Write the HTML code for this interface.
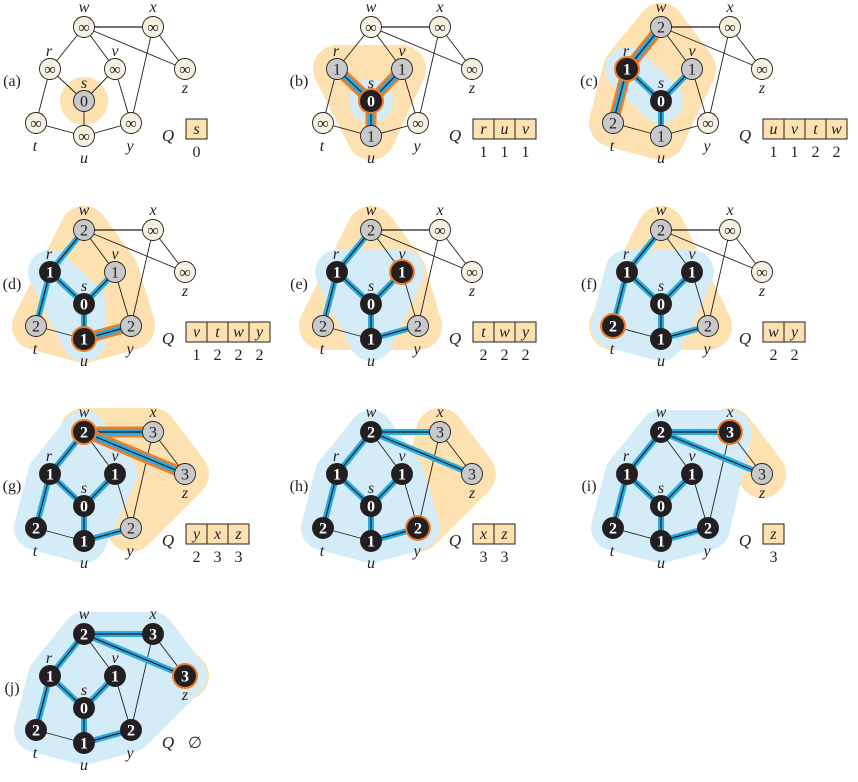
<!DOCTYPE html>
<html><head><meta charset="utf-8"><style>
body{margin:0;background:#fff}
svg{display:block}
svg text{font-family:"Liberation Serif","Times New Roman",serif}
</style></head><body>
<svg id="fig" width="858" height="782" viewBox="0 0 858 782" xmlns="http://www.w3.org/2000/svg" font-family="Liberation Serif, serif"></svg>
<script>
const NS="http://www.w3.org/2000/svg";
const nodeNames=["w","x","r","v","z","s","t","u","y"];
const nodeX=[84,153,50,115,185,84,36,84,131];
const nodeY=[27,27,69,69,69,101,123,136,123];
const edgeList=[["w","x"],["w","r"],["w","v"],["w","z"],["x","z"],["x","y"],["r","s"],["r","t"],["v","s"],["v","y"],["s","u"],["t","u"],["u","y"]];
const treeEdges=[["s","r"],["s","u"],["s","v"],["r","w"],["r","t"],["u","y"],["w","x"],["w","z"]];
const dist={s:0,r:1,u:1,v:1,w:2,t:2,y:2,x:3,z:3};
const discoveredBy={r:"s",u:"s",v:"s",w:"r",t:"r",y:"u",x:"w",z:"w"};
const order=["s","r","u","v","t","w","y","x","z"];
const panelLabels=["(a)","(b)","(c)","(d)","(e)","(f)","(g)","(h)","(i)","(j)"];
const colOff=[0,287,577];
const rowOff=[0,203,405,607];
const svg=document.getElementById("fig");
function mk(tag,attrs,parent){const e=document.createElementNS(NS,tag);for(const k in attrs)e.setAttribute(k,attrs[k]);if(tag=="text")e.setAttribute("font-family","Liberation Serif, serif");(parent||svg).appendChild(e);return e;}
function P(n){const i=nodeNames.indexOf(n);return [nodeX[i],nodeY[i]];}
function hull(pts){pts=pts.slice().sort((a,b)=>a[0]-b[0]||a[1]-b[1]);if(pts.length<3)return pts;const cr=(o,a,b)=>(a[0]-o[0])*(b[1]-o[1])-(a[1]-o[1])*(b[0]-o[0]);const lo=[],up=[];for(const p of pts){while(lo.length>=2&&cr(lo[lo.length-2],lo[lo.length-1],p)<=0)lo.pop();lo.push(p);}for(let i=pts.length-1;i>=0;i--){const p=pts[i];while(up.length>=2&&cr(up[up.length-2],up[up.length-1],p)<=0)up.pop();up.push(p);}up.pop();lo.pop();return lo.concat(up);}
function blob(g,names,color,r){if(!names.length)return;const h=hull(names.map(P));if(h.length==1){const b=mk("circle",{cx:h[0][0],cy:h[0][1],r:r,fill:color},g);return;}const b=mk("polygon",{points:h.map(p=>p.join(",")).join(" "),fill:color,stroke:color,"stroke-width":r*2,"stroke-linejoin":"round"},g);}
for(let k=0;k<10;k++){
  const ox=colOff[k%3],oy=rowOff[Math.floor(k/3)];
  const g=mk("g",{transform:`translate(${ox},${oy})`});
  
  
  const cur=k==0?null:order[k-1];
  const black=k==0?[]:order.slice(0,k);
  const disc=new Set(["s"]);for(const b of black)for(const n in discoveredBy)if(discoveredBy[n]==b)disc.add(n);
  const gray=[...disc].filter(n=>!black.includes(n));
  const queue=order.filter(n=>gray.includes(n));
  blob(g,gray.concat(cur?[cur]:[]),"#fde1b0",24);
  blob(g,black,"#d4ebf8",22);
  const lbl=mk("text",{x:12,y:86,"font-size":16,fill:"#231f20","text-anchor":"middle"},g);lbl.textContent=panelLabels[k];
  
  for(const [a,b] of edgeList){const [x1,y1]=P(a),[x2,y2]=P(b);const l=mk("line",{x1,y1,x2,y2,stroke:"#231f20","stroke-width":(a=="w"&&b=="x")?1.3:0.9},g);}
  for(const [a,b] of treeEdges){
    if(!disc.has(b)||!black.includes(a))continue;
    const [x1,y1]=P(a),[x2,y2]=P(b);
    if(a==cur){const o=mk("line",{x1,y1,x2,y2,stroke:"#ee7d27","stroke-width":11},g);}
    const c=mk("line",{x1,y1,x2,y2,stroke:"#29abe2","stroke-width":6},g);
    mk("line",{x1,y1,x2,y2,stroke:"#231f20","stroke-width":1.2},g);
  }
  for(let i=0;i<nodeNames.length;i++){
    const n=nodeNames[i],x=nodeX[i],y=nodeY[i];
    const isB=black.includes(n),isG=gray.includes(n);
    const fill=isB?"#231f20":isG?"#c8c9cb":"#f4f1e1";
    if(n==cur){const ring=mk("circle",{cx:x,cy:y,r:13,fill:"#ee7d27"},g);}
    const c=mk("circle",{cx:x,cy:y,r:10.5,fill:fill,stroke:"#231f20","stroke-width":0.9},g);
    
    const t=mk("text",{x:x,y:y+5.5,"font-size":16,"font-weight":isB?"bold":"normal",fill:isB?"#fff":"#231f20","text-anchor":"middle"},g);
    t.textContent=(isB||isG)?dist[n]:"∞";
    
  }
  const lp={w:[84,12],x:[153,12],r:[49,56],v:[115,56],z:[185,93],s:[84,88],t:[35,151],u:[84,163],y:[130,151]};
  for(const n in lp){const t=mk("text",{x:lp[n][0],y:lp[n][1],"font-size":16,"font-style":"italic",fill:"#231f20","text-anchor":"middle"},g);t.textContent=n;}
  const q=mk("text",{x:168,y:141,"font-size":17,"font-style":"italic",fill:"#231f20","text-anchor":"middle"},g);q.textContent="Q";
  if(!queue.length){const e=mk("text",{x:188,y:141,"font-size":16,fill:"#231f20"},g);e.textContent="∅";}
  queue.forEach((n,j)=>{
    const bx=186+j*21;
    const r=mk("rect",{x:bx,y:119,width:21,height:20,fill:"#fde1b0",stroke:"#231f20","stroke-width":1},g);
    const t=mk("text",{x:bx+10.5,y:134,"font-size":16,"font-style":"italic",fill:"#231f20","text-anchor":"middle"},g);t.textContent=n;
    const d=mk("text",{x:bx+10.5,y:157,"font-size":16,fill:"#231f20","text-anchor":"middle"},g);d.textContent=dist[n];
    
  });
}
</script>
</body></html>
